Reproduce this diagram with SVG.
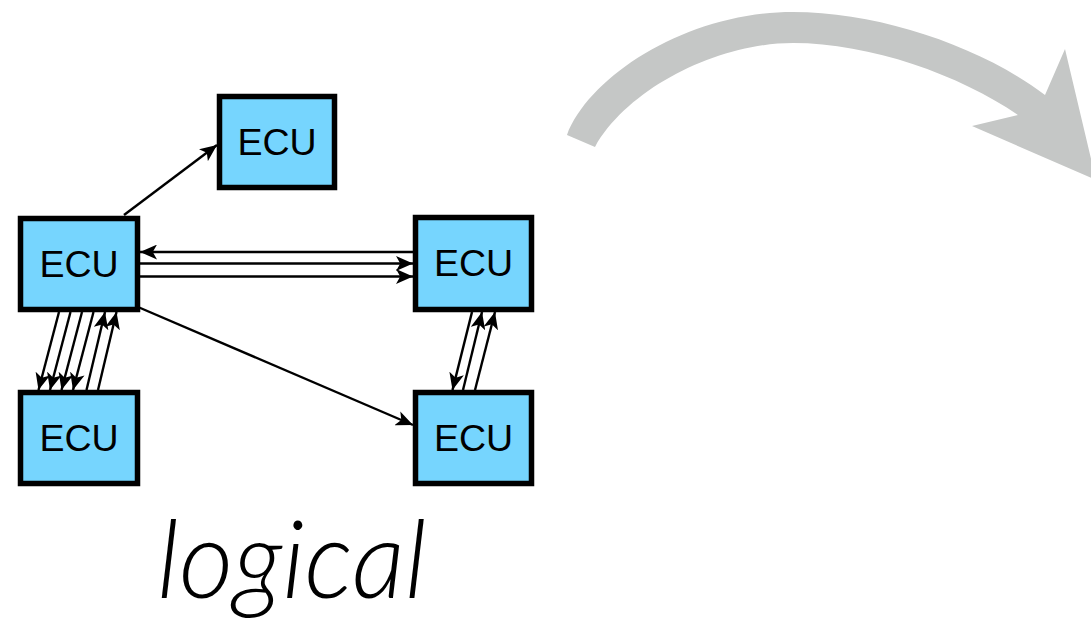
<svg xmlns="http://www.w3.org/2000/svg" width="1091" height="627" viewBox="0 0 1091 627">
<style>
.box{fill:#76d5fe;stroke:#000;stroke-width:5.5}
.lbl{font-family:"Liberation Sans",Arial,sans-serif;font-size:37.5px;fill:#000;text-anchor:middle}
.con{stroke:#000;stroke-width:2.4;fill:none;marker-end:url(#ah)}
.title{font-family:"Lato","Open Sans","Noto Sans",sans-serif;font-style:italic;font-weight:300;font-size:108px;fill:#000}
</style>
<defs>
<marker id="ah" viewBox="0 0 16 14" refX="16" refY="7" markerWidth="17" markerHeight="15" markerUnits="userSpaceOnUse" orient="auto">
<path d="M0,0 L16,7 L0,14 L4,7 Z" fill="#000"/>
</marker>
</defs>
<g id="big-arrow">
<path d="M567,135 C590,75 688,12 793,12 C880,12 982,47 1045,95 L1065,49 L1096,180 L972,126 L1018,115 C960,75 870,43 793,43 C718,43 628,88 595,147 Z" fill="#c5c7c6"/>
</g>
<g id="connectors">
<line class="con" x1="124" y1="215" x2="217" y2="145"/>
<line class="con" x1="413" y1="252" x2="140" y2="252"/>
<line class="con" x1="140" y1="263.5" x2="413" y2="263.5"/>
<line class="con" x1="140" y1="276.5" x2="413" y2="276.5"/>
<line class="con" x1="138" y1="307" x2="413" y2="425"/>
<line class="con" x1="59" y1="312" x2="38.5" y2="390"/>
<line class="con" x1="70.5" y1="312" x2="50" y2="390"/>
<line class="con" x1="82" y1="312" x2="61.5" y2="390"/>
<line class="con" x1="93.5" y1="312" x2="73" y2="390"/>
<line class="con" x1="86.5" y1="390" x2="105" y2="312"/>
<line class="con" x1="98" y1="390" x2="116.5" y2="312"/>
<line class="con" x1="472" y1="312" x2="452.5" y2="390"/>
<line class="con" x1="463" y1="390" x2="482" y2="312"/>
<line class="con" x1="475" y1="390" x2="495" y2="312"/>
</g>
<g id="ecu-top">
<rect class="box" x="219.5" y="96.5" width="115" height="91"/>
<text class="lbl" x="277" y="155">ECU</text>
</g>
<g id="ecu-left">
<rect class="box" x="20.5" y="218.5" width="117" height="91"/>
<text class="lbl" x="79" y="277">ECU</text>
</g>
<g id="ecu-right">
<rect class="box" x="415.5" y="217.5" width="116" height="92"/>
<text class="lbl" x="473.5" y="276">ECU</text>
</g>
<g id="ecu-bottom-left">
<rect class="box" x="20.5" y="392.5" width="117" height="91"/>
<text class="lbl" x="79" y="451">ECU</text>
</g>
<g id="ecu-bottom-right">
<rect class="box" x="415.5" y="392.5" width="116" height="91"/>
<text class="lbl" x="473.5" y="451">ECU</text>
</g>
<g id="caption">
<text class="title" x="157" y="598" textLength="270" lengthAdjust="spacingAndGlyphs">logical</text>
</g>
</svg>
